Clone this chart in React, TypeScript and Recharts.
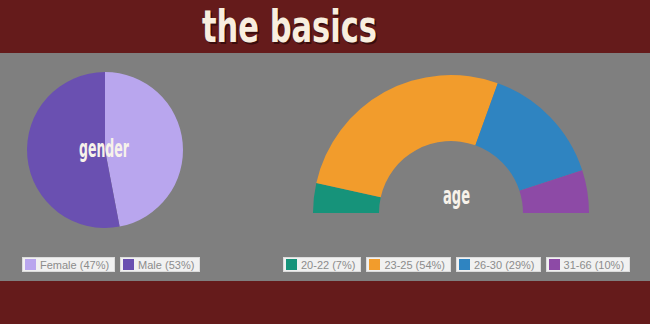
import { Cell, Pie, PieChart } from 'recharts';

const genderNames = ['Female', 'Male'];
const genderValues = [47, 53];
const genderColors = ['#b9a6ee', '#6a50b1'];

const ageNames = ['20-22', '23-25', '26-30', '31-66'];
const ageValues = [7, 54, 29, 10];
const ageColors = ['#16937a', '#f29c2c', '#2f84c1', '#8d4aa6'];

const genderData = genderNames.map((name, i) => ({ name, value: genderValues[i] }));
const ageData = ageNames.map((name, i) => ({ name, value: ageValues[i] }));

const condensed = '"DejaVu Sans Condensed", "DejaVu Sans", sans-serif';

function LegendRow({
  items,
  colors,
  left,
  top,
}: {
  items: { name: string; value: number }[];
  colors: string[];
  left: number;
  top: number;
}) {
  return (
    <div style={{ position: 'absolute', left, top, display: 'flex', gap: 5 }}>
      {items.map((d, i) => (
        <div
          key={d.name}
          style={{
            display: 'flex',
            alignItems: 'center',
            height: 15,
            padding: '0 5px 0 2px',
            background: '#f1f1f1',
            border: '1px solid #dcdcdc',
            boxSizing: 'border-box',
            fontFamily: '"Liberation Sans", Arial, sans-serif',
            fontSize: 11,
            color: '#8c8c8c',
            whiteSpace: 'nowrap',
          }}
        >
          <span style={{ width: 11, height: 11, background: colors[i], marginRight: 4 }} />
          {`${d.name} (${d.value}%)`}
        </div>
      ))}
    </div>
  );
}

export default function App() {
  return (
    <div
      style={{
        position: 'absolute',
        left: 0,
        top: 0,
        width: 650,
        height: 324,
        background: '#7f7f7f',
        overflow: 'hidden',
      }}
    >
      <div style={{ position: 'absolute', left: 0, top: 0, width: 650, height: 53, background: '#651b1b' }} />
      <div style={{ position: 'absolute', left: 0, top: 281, width: 650, height: 43, background: '#651b1b' }} />

      <div style={{ position: 'absolute', left: 0, top: 0 }}>
        <PieChart width={650} height={324} margin={{ top: 0, right: 0, bottom: 0, left: 0 }}>
          <Pie
            data={genderData}
            dataKey="value"
            nameKey="name"
            cx={105}
            cy={150}
            outerRadius={78}
            startAngle={90}
            endAngle={-270}
            stroke="none"
            isAnimationActive={false}
          >
            {genderData.map((d, i) => (
              <Cell key={d.name} fill={genderColors[i]} />
            ))}
          </Pie>
          <Pie
            data={ageData}
            dataKey="value"
            nameKey="name"
            cx={451}
            cy={213}
            innerRadius={72}
            outerRadius={138}
            startAngle={180}
            endAngle={0}
            stroke="none"
            isAnimationActive={false}
          >
            {ageData.map((d, i) => (
              <Cell key={d.name} fill={ageColors[i]} />
            ))}
          </Pie>
        </PieChart>
      </div>

      <svg width={650} height={324} style={{ position: 'absolute', left: 0, top: 0 }}>
        <text
          x={202}
          y={42}
          textLength={175}
          lengthAdjust="spacingAndGlyphs"
          fontFamily={condensed}
          fontWeight="bold"
          fontSize={44}
          fill="#3a0d0d"
          dx={1.5}
          dy={1.5}
        >
          the basics
        </text>
        <text
          x={202}
          y={42}
          textLength={175}
          lengthAdjust="spacingAndGlyphs"
          fontFamily={condensed}
          fontWeight="bold"
          fontSize={44}
          fill="#f8eedf"
        >
          the basics
        </text>
        <text
          x={79}
          y={157}
          textLength={50}
          lengthAdjust="spacingAndGlyphs"
          fontFamily={condensed}
          fontWeight="bold"
          fontSize={25}
          fill="#f7f2ea"
        >
          gender
        </text>
        <text
          x={443}
          y={204}
          textLength={27}
          lengthAdjust="spacingAndGlyphs"
          fontFamily={condensed}
          fontWeight="bold"
          fontSize={25}
          fill="#f7f2ea"
        >
          age
        </text>
      </svg>

      <LegendRow items={genderData} colors={genderColors} left={22} top={257} />
      <LegendRow items={ageData} colors={ageColors} left={283} top={257} />
    </div>
  );
}
